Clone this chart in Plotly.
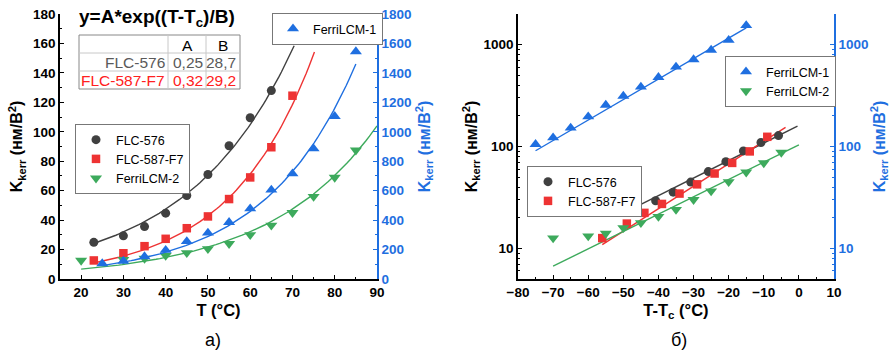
import numpy as np
import plotly.graph_objects as go

# ---------------- data ----------------
T_576 = [23, 30, 35, 40, 45, 50, 55, 60, 65]
K_576 = [24.9, 29.3, 35.6, 44.7, 56.7, 71.0, 90.5, 109.5, 128.0]

T_587 = [23, 30, 35, 40, 45, 50, 55, 60, 65, 70]
K_587 = [12.6, 17.5, 22.3, 27.3, 34.5, 42.5, 54.3, 69.0, 89.5, 124.5]

T_f2 = [20, 30, 35, 40, 45, 50, 55, 60, 65, 70, 75, 80, 85]
K_f2 = [12.6, 13.2, 14.0, 15.9, 17.8, 20.5, 24.0, 30.0, 36.5, 45.0, 56.0, 69.0, 87.5]

T_f1 = [25, 30, 35, 40, 45, 50, 55, 60, 65, 70, 75, 80, 85]
K_f1 = [105, 122, 152, 196, 255, 313, 385, 478, 605, 715, 885, 1105, 1545]

# clearing temperatures used for the T-Tc panel
Tc_576, Tc_587, Tc_f2, Tc_f1 = 70.8, 79.0, 90.0, 100.0

# exponential fit lines  K = K0*exp((T-Tc)/B), drawn over [x_from, x_to] in T-Tc
fit_K0 = [161.0, 187.0, 104.0, 2925.0]
fit_B = [25.2, 19.7, 25.5, 21.6]
fit_from = [-48.0, -56.0, -70.0, -75.0]
fit_to = [-0.4, -3.8, 0.0, -15.0]

table_head = ["", "A", "B"]
table_rows = [["FLC-576", "0,25", "28,7"], ["FLC-587-F7", "0,32", "29,2"]]

# ---------------- styling ----------------
W, H = 894, 353
GRAY, RED, BLUE, GREEN = "#404040", "#EE3333", "#1F6FE0", "#3DAA5C"
FONT = "Arial, Liberation Sans, sans-serif"

def px(x):
    return x / W

def py(y):
    return 1 - y / H

names = ["FLC-576", "FLC-587-F7", "FerriLCM-2", "FerriLCM-1"]
Ts = [T_576, T_587, T_f2, T_f1]
Ks = [K_576, K_587, K_f2, K_f1]
Tcs = [Tc_576, Tc_587, Tc_f2, Tc_f1]
colors = [GRAY, RED, GREEN, BLUE]
symbols = ["circle", "square", "triangle-down", "triangle-up"]
msizes = [9, 8.5, 10.5, 10.5]

fig = go.Figure()

for i in range(4):
    xs = np.linspace(fit_from[i], fit_to[i], 80)
    ys = fit_K0[i] * np.exp(xs / fit_B[i])
    yl = "y2" if i == 3 else "y"
    yr = "y4" if i == 3 else "y3"
    fig.add_trace(go.Scatter(x=xs + Tcs[i], y=ys, mode="lines", xaxis="x", yaxis=yl,
                             line=dict(color=colors[i], width=1.4), showlegend=False,
                             hoverinfo="skip"))
    fig.add_trace(go.Scatter(x=xs, y=ys, mode="lines", xaxis="x2", yaxis=yr,
                             line=dict(color=colors[i], width=1.4), showlegend=False,
                             hoverinfo="skip"))

legend_left = ["legend2", "legend2", "legend2", "legend"]
legend_right = ["legend4", "legend4", "legend3", "legend3"]
ranks_right = [1, 2, 2, 1]
for i in range(4):
    yl = "y2" if i == 3 else "y"
    yr = "y4" if i == 3 else "y3"
    mk = dict(color=colors[i], symbol=symbols[i], size=msizes[i], line=dict(width=0))
    fig.add_trace(go.Scatter(x=Ts[i], y=Ks[i], mode="markers", name=names[i],
                             xaxis="x", yaxis=yl, marker=mk, legend=legend_left[i],
                             legendrank=i + 1))
    fig.add_trace(go.Scatter(x=[t - Tcs[i] for t in Ts[i]], y=Ks[i], mode="markers",
                             name=names[i], xaxis="x2", yaxis=yr, marker=mk,
                             legend=legend_right[i], legendrank=ranks_right[i]))

tickfont = dict(family=FONT, size=13.5, color="black", weight="bold")
tickfont_b = dict(family=FONT, size=13.5, color=BLUE, weight="bold")
titlefont = dict(family=FONT, size=16, color="black", weight="bold")
titlefont_b = dict(family=FONT, size=16, color=BLUE, weight="bold")
xtitlefont = dict(family=FONT, size=16.5, color="black", weight="bold")
ytitle = "K<sub>kerr</sub> (нм/В<sup>2</sup>)"

common = dict(showgrid=False, zeroline=False, showline=True, linewidth=1.5,
              ticks="inside", ticklen=4, tickwidth=1.2, automargin=False)

ydom = [py(279), py(14)]
log_minor = sorted(set(v * m for v in (1, 10, 100, 1000) for m in range(1, 10)
                       if 5 <= v * m <= 2000 and m != 1))

fig.update_layout(
    width=W, height=H, margin=dict(l=0, r=0, t=0, b=0, autoexpand=False),
    paper_bgcolor="white", plot_bgcolor="white",
    font=dict(family=FONT, color="black"),
    xaxis=dict(domain=[px(60), px(377)], range=[15, 90], anchor="y",
               tickvals=list(range(20, 91, 10)),
               minor=dict(dtick=5, tick0=15, ticks="inside", ticklen=2.5),
               linecolor="black", tickcolor="black", tickfont=tickfont,
               title=dict(text="T (°C)", font=xtitlefont, standoff=5), **common),
    yaxis=dict(domain=ydom, range=[0, 180], anchor="x", dtick=20,
               minor=dict(dtick=10, ticks="inside", ticklen=2.5),
               linecolor="black", tickcolor="black", tickfont=tickfont,
               title=dict(text=ytitle, font=titlefont, standoff=6), **common),
    yaxis2=dict(overlaying="y", side="right", anchor="x", range=[0, 1800], dtick=200,
                minor=dict(dtick=100, ticks="inside", ticklen=2.5),
                linecolor=BLUE, tickcolor=BLUE, tickfont=tickfont_b,
                title=dict(text=ytitle, font=titlefont_b, standoff=8), **common),
    xaxis2=dict(domain=[px(518), px(834)], range=[-80, 10], anchor="y3", dtick=10,
                minor=dict(dtick=5, ticks="inside", ticklen=2.5),
                linecolor="black", tickcolor="black", tickfont=tickfont,
                title=dict(text="T-T<sub>c</sub> (°C)", font=xtitlefont, standoff=5),
                **common),
    yaxis3=dict(domain=ydom, type="log", range=[np.log10(5), np.log10(2000)], anchor="x2",
                tickvals=[10, 100, 1000], ticktext=["10", "100", "1000"],
                minor=dict(tickmode="array", tickvals=log_minor, ticks="inside", ticklen=2.5),
                linecolor="black", tickcolor="black", tickfont=tickfont,
                title=dict(text=ytitle, font=titlefont, standoff=2), **common),
    yaxis4=dict(overlaying="y3", side="right", anchor="x2", type="log",
                range=[np.log10(5), np.log10(2000)],
                tickvals=[10, 100, 1000], ticktext=["10", "100", "1000"],
                minor=dict(tickmode="array", tickvals=log_minor, ticks="inside", ticklen=2.5),
                linecolor=BLUE, tickcolor=BLUE, tickfont=tickfont_b,
                title=dict(text=ytitle, font=titlefont_b, standoff=6), **common),
)

legend_style = dict(bgcolor="white", bordercolor="#777", borderwidth=1,
                    font=dict(family=FONT, size=12.5, color="black"),
                    xanchor="left", yanchor="top", tracegroupgap=0, itemwidth=30,
                    traceorder="normal")
fig.update_layout(
    legend=dict(x=px(272), y=py(13), **legend_style),
    legend2=dict(x=px(75), y=py(124), **legend_style),
    legend3=dict(x=px(725), y=py(56), **legend_style),
    legend4=dict(x=px(527), y=py(166), **legend_style),
)

# ---------------- formula title and parameter table ----------------
ann = []
ann.append(dict(text="<b>y=A*exp((T-T<sub>c</sub>)/B)</b>", x=px(157), y=py(18),
                xref="paper", yref="paper", xanchor="center", yanchor="middle",
                showarrow=False, font=dict(family=FONT, size=19, color="black")))

tx0, tx1 = 79, 240
ty0, ty1 = 35, 89
col_x = [79, 168, 206, 240]
row_y = [35, 53, 71, 89]
shapes = [dict(type="rect", xref="paper", yref="paper", x0=px(tx0), x1=px(tx1),
               y0=py(ty0), y1=py(ty1), line=dict(color="#888", width=1))]
for yy in row_y[1:-1]:
    shapes.append(dict(type="line", xref="paper", yref="paper", x0=px(tx0), x1=px(tx1),
                       y0=py(yy), y1=py(yy), line=dict(color="#c8c8c8", width=1)))
for xx in col_x[1:-1]:
    shapes.append(dict(type="line", xref="paper", yref="paper", x0=px(xx), x1=px(xx),
                       y0=py(ty0), y1=py(ty1), line=dict(color="#c8c8c8", width=1)))

row_colors = ["black", "#5a5a5a", "#FF2020"]
all_rows = [table_head] + table_rows
for r, row in enumerate(all_rows):
    yc = (row_y[r] + row_y[r + 1]) / 2
    for c, txt in enumerate(row):
        if not txt:
            continue
        if r == 0:
            xa, xc = "center", (col_x[c] + col_x[c + 1]) / 2
        else:
            xa, xc = "right", col_x[c + 1] - 1.5
        ann.append(dict(text=txt, x=px(xc), y=py(yc + 1), xref="paper", yref="paper",
                        xanchor=xa, yanchor="middle", showarrow=False,
                        font=dict(family=FONT, size=15.5, color=row_colors[r])))

ann.append(dict(text="a)", x=px(213), y=py(340), xref="paper", yref="paper",
                xanchor="center", yanchor="middle",
                showarrow=False, font=dict(family=FONT, size=18, color="black")))
ann.append(dict(text="б)", x=px(679), y=py(340), xref="paper", yref="paper",
                xanchor="center", yanchor="middle",
                showarrow=False, font=dict(family=FONT, size=18, color="black")))

fig.update_layout(annotations=ann, shapes=shapes)

fig.write_html("out.html")
